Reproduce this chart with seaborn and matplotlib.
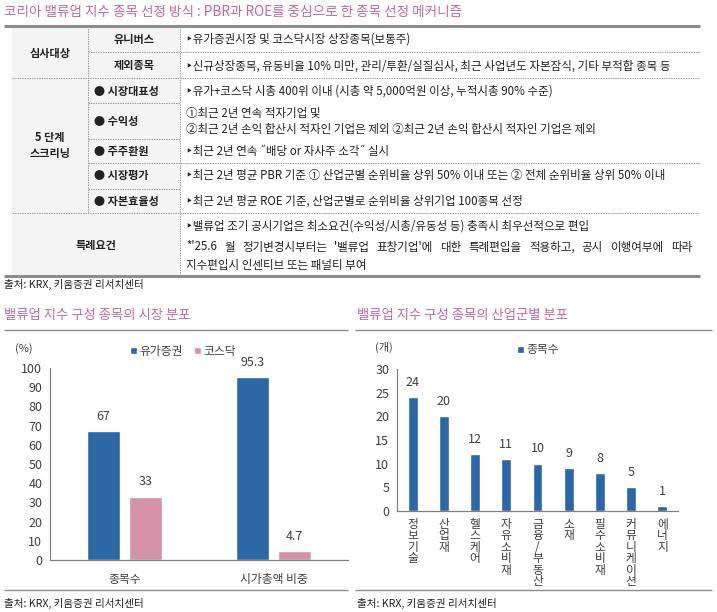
import matplotlib
matplotlib.use('Agg')
import matplotlib.pyplot as plt
from matplotlib.patches import Rectangle, Patch
import seaborn as sns
import pandas as pd

sns.set_theme(style='white')
plt.rcParams['font.family'] = ['Noto Sans CJK KR', 'DejaVu Sans']
plt.rcParams['axes.unicode_minus'] = False

# ---------------- data ----------------
main_title = '코리아 밸류업 지수 종목 선정 방식 : PBR과 ROE를 중심으로 한 종목 선정 메커니즘'
source_text = '출처: KRX, 키움증권 리서치센터'

market_title = '밸류업 지수 구성 종목의 시장 분포'
market_categories = ['종목수', '시가총액 비중']
market_series = ['유가증권', '코스닥']
kospi_values = [67, 95.3]
kosdaq_values = [33, 4.7]
market_yticks = [0, 10, 20, 30, 40, 50, 60, 70, 80, 90, 100]

sector_title = '밸류업 지수 구성 종목의 산업군별 분포'
sector_series = '종목수'
sector_categories = ['정보기술', '산업재', '헬스케어', '자유소비재', '금융/부동산',
                     '소재', '필수소비재', '커뮤니케이션', '에너지']
sector_values = [24, 20, 12, 11, 10, 9, 8, 5, 1]
sector_yticks = [0, 5, 10, 15, 20, 25, 30]

# ---------------- style ----------------
W, H = 717, 612
BLUE = '#2b67a4'
PINK = '#d492a8'
TITLE_PINK = '#c8689c'
GRAY_LINE = '#8c8c8c'
TXT = '#222222'
AX_TXT = '#404040'

fig = plt.figure(figsize=(W / 100, H / 100), dpi=100)
fig.patch.set_facecolor('white')
bg = fig.add_axes([0, 0, 1, 1])
bg.set_xlim(0, W)
bg.set_ylim(H, 0)
bg.axis('off')
bg.set_zorder(0)


def rect(l, t, r, b):
    return [l / W, 1 - b / H, (r - l) / W, (b - t) / H]


def hline(x0, x1, y, dashed=False, lw=0.7, color='#9a9a9a'):
    ls = (0, (1.5, 1.0)) if dashed else '-'
    bg.plot([x0, x1], [y, y], color=color, lw=lw, ls=ls, solid_capstyle='butt')


def vline(x, y0, y1, dashed=True, lw=0.7, color='#9a9a9a'):
    ls = (0, (1.5, 1.0)) if dashed else '-'
    bg.plot([x, x], [y0, y1], color=color, lw=lw, ls=ls)


# ---------------- table ----------------
TFS = 8.3
bg.text(4, 12, main_title, color=TITLE_PINK, fontsize=9.8, va='center', ha='left')
bg.add_patch(Rectangle((12, 26), 168, 250, facecolor='#f4f4f4', edgecolor='none'))
hline(4, 700, 26, lw=2.2, color=GRAY_LINE)
hline(4, 700, 276, lw=2.2, color=GRAY_LINE)

vline(88, 26, 213)
vline(180, 26, 276)
hline(88, 700, 52, dashed=True)
hline(12, 700, 78, dashed=True)
hline(88, 180, 103, dashed=True)
hline(88, 180, 139, dashed=True)
hline(88, 700, 163, dashed=True)
hline(88, 180, 189, dashed=True)
hline(12, 700, 213, dashed=True)

bold = dict(fontweight='bold', color=TXT, fontsize=8.0, va='center')
bg.text(50, 53, '심사대상', ha='center', **bold)
bg.text(50, 146, '5 단계\n스크리닝', ha='center', linespacing=1.3, **bold)
bg.text(96, 245, '특례요건', ha='center', **bold)
bg.text(134, 39, '유니버스', ha='center', **bold)
bg.text(134, 65, '제외종목', ha='center', **bold)
for y, s in [(91, '시장대표성'), (121, '수익성'), (151, '주주환원'),
             (176, '시장평가'), (201, '자본효율성')]:
    bg.text(94, y, '● ' + s, ha='left', **bold)

norm = dict(color=TXT, fontsize=TFS, va='center', ha='left')
bx = 186
rows = [
    (39, '‣유가증권시장 및 코스닥시장 상장종목(보통주)'),
    (66, '‣신규상장종목, 유동비율 10% 미만, 관리/투환/실질심사, 최근 사업년도 자본잠식, 기타 부적합 종목 등'),
    (91, '‣유가+코스닥 시총 400위 이내 (시총 약 5,000억원 이상, 누적시총 90% 수준)'),
    (114, '①최근 2년 연속 적자기업 및'),
    (130, '②최근 2년 손익 합산시 적자인 기업은 제외 ②최근 2년 손익 합산시 적자인 기업은 제외'),
    (152, '‣최근 2년 연속 ˝배당 or 자사주 소각˝ 실시'),
    (176, '‣최근 2년 평균 PBR 기준 ① 산업군별 순위비율 상위 50% 이내 또는 ② 전체 순위비율 상위 50% 이내'),
    (201, '‣최근 2년 평균 ROE 기준, 산업군별로 순위비율 상위기업 100종목 선정'),
    (226, '‣밸류업 조기 공시기업은 최소요건(수익성/시총/유동성 등) 충족시 최우선적으로 편입'),
    (266, '지수편입시 인센티브 또는 패널티 부여'),
]
for y, s in rows:
    bg.text(bx, y, s, **norm)

# justified line
renderer = fig.canvas.get_renderer()
words = "*'25.6 월 정기변경시부터는 '밸류업 표창기업'에 대한 특례편입을 적용하고, 공시 이행여부에 따라".split(' ')
texts = [bg.text(0, 247, w, **norm) for w in words]
widths = [t.get_window_extent(renderer).width for t in texts]
gap = (692 - bx - sum(widths)) / (len(words) - 1)
xx = bx
for t, w in zip(texts, widths):
    t.set_x(xx)
    xx += w + gap

bg.text(4, 284, source_text, color=TXT, fontsize=7.6, va='center', ha='left')

# ---------------- chart titles / frames ----------------
bg.text(4, 315, market_title, color=TITLE_PINK, fontsize=9.6, va='center', ha='left')
bg.text(357, 315, sector_title, color=TITLE_PINK, fontsize=9.6, va='center', ha='left')
hline(4, 348, 330, lw=1.0, color=GRAY_LINE)
hline(355, 712, 330, lw=1.0, color=GRAY_LINE)
hline(4, 348, 590, lw=1.0, color=GRAY_LINE)
hline(355, 712, 590, lw=1.0, color=GRAY_LINE)
bg.text(4, 603, source_text, color=TXT, fontsize=7.6, va='center', ha='left')
bg.text(357, 603, source_text, color=TXT, fontsize=7.6, va='center', ha='left')
bg.text(24, 349, '(%)', color=AX_TXT, fontsize=8, va='center', ha='center')
bg.text(384, 347, '(개)', color=AX_TXT, fontsize=8, va='center', ha='center')

AFS = 9


def style_axis(ax, ncat):
    for sp in ['top', 'right']:
        ax.spines[sp].set_visible(False)
    for sp in ['left', 'bottom']:
        ax.spines[sp].set_color('#808080')
        ax.spines[sp].set_linewidth(0.9)
    ax.set_facecolor('none')
    ax.set_xlim(-0.5, ncat - 0.5)
    ax.set_xticks([i - 0.5 for i in range(ncat + 1)])
    ax.set_xticklabels([])
    ax.tick_params(axis='x', which='major', direction='out', length=3.5, color='#808080', width=0.9)
    ax.tick_params(axis='y', which='major', direction='out', length=3.5, color='#808080', width=0.9,
                   labelsize=AFS, labelcolor=AX_TXT, pad=2)
    ax.set_xlabel('')
    ax.set_ylabel('')
    ax.grid(False)


# ---------------- market chart ----------------
df_m = pd.DataFrame({
    '구분': market_categories * 2,
    '시장': [market_series[0]] * len(market_categories) + [market_series[1]] * len(market_categories),
    '값': kospi_values + kosdaq_values,
})
ax1 = fig.add_axes(rect(50, 368, 348, 560))
sns.barplot(data=df_m, x='구분', y='값', hue='시장', order=market_categories,
            hue_order=market_series, palette=[BLUE, PINK], width=0.564, gap=0.21,
            saturation=1, ax=ax1, legend=False)
style_axis(ax1, len(market_categories))
ax1.set_ylim(0, 100)
ax1.set_yticks(market_yticks)
ax1.set_xticks(range(len(market_categories)), minor=True)
ax1.set_xticklabels(market_categories, minor=True)
ax1.tick_params(axis='x', which='minor', length=0, labelsize=8.5, labelcolor=AX_TXT, pad=9)
for cont in ax1.containers:
    ax1.bar_label(cont, fmt='%g', padding=6, fontsize=AFS, color=AX_TXT)
handles = [Patch(facecolor=BLUE), Patch(facecolor=PINK)]
ax1.legend(handles, market_series, ncol=2, loc='center',
           bbox_to_anchor=(183 / W, 1 - 351 / H), bbox_transform=fig.transFigure,
           frameon=False, handlelength=0.6, handleheight=0.6, handletextpad=0.2,
           columnspacing=1.0, fontsize=8.5, labelcolor=AX_TXT)

# ---------------- sector chart ----------------
df_s = pd.DataFrame({'산업군': sector_categories, sector_series: sector_values})
ax2 = fig.add_axes(rect(397, 369, 678, 511))
sns.barplot(data=df_s, x='산업군', y=sector_series, order=sector_categories, color=BLUE,
            width=0.32, saturation=1, ax=ax2)
style_axis(ax2, len(sector_categories))
ax2.set_ylim(0, 30)
ax2.set_yticks(sector_yticks)
ax2.set_xticks(range(len(sector_categories)), minor=True)
ax2.set_xticklabels(['\n'.join(list(c)) for c in sector_categories], minor=True,
                    va='top', linespacing=0.85)
ax2.tick_params(axis='x', which='minor', length=0, labelsize=8.5, labelcolor=AX_TXT, pad=5)
for cont in ax2.containers:
    ax2.bar_label(cont, fmt='%g', padding=6, fontsize=AFS, color=AX_TXT)
ax2.legend([Patch(facecolor=BLUE)], [sector_series], loc='center',
           bbox_to_anchor=(538 / W, 1 - 350 / H), bbox_transform=fig.transFigure,
           frameon=False, handlelength=0.6, handleheight=0.6, handletextpad=0.2,
           fontsize=8.5, labelcolor=AX_TXT)

fig.savefig('out.png', dpi=100, facecolor='white')
